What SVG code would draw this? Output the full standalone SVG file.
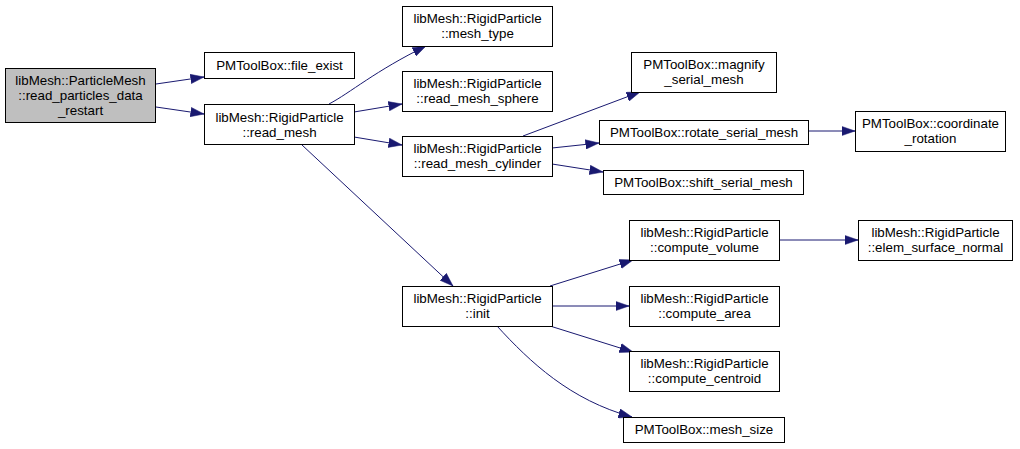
<svg xmlns="http://www.w3.org/2000/svg" width="1020" height="449" viewBox="0 0 1020 449">
<style>
.n rect{fill:#ffffff;stroke:#000000;stroke-width:1}
.n.root rect{fill:#bfbfbf}
.n text{font-family:"Liberation Sans",Arial,Helvetica,sans-serif;font-size:13.33px;text-anchor:middle;fill:#000000}
.e path{fill:none;stroke:#191970;stroke-width:1;marker-end:url(#ah)}
</style>
<defs>
<marker id="ah" markerUnits="userSpaceOnUse" markerWidth="14" markerHeight="10" viewBox="0 0 14 10" refX="13.5" refY="5" orient="auto">
<path d="M0,0.3 L13.5,5 L0,9.7 Z" fill="#191970" stroke="#191970" stroke-width="0.5"/>
</marker>
</defs>
<rect width="1020" height="449" fill="#ffffff"/>
<g id="edges" class="e">
<path d="M156,84 L204,77"/>
<path d="M156,107 L204,114"/>
<path d="M329,104 C350,93 375,71 426,46"/>
<path d="M354,112 L402,104"/>
<path d="M354,137 L402,145"/>
<path d="M302,145 L453,286"/>
<path d="M523,136 L640,92"/>
<path d="M552,148 L599,143"/>
<path d="M552,164 L603,172"/>
<path d="M808,131 L855,131"/>
<path d="M550,286 L633,260"/>
<path d="M552,306 L629,306"/>
<path d="M550,326 L633,352"/>
<path d="M497,326 C530,362 570,400 632,417"/>
<path d="M779,240 L858,240"/>
</g>
<g id="node_root" class="n root">
<rect x="5.5" y="68.5" width="150" height="54"/>
<text x="80.5" y="84.5">libMesh::ParticleMesh</text>
<text x="80.5" y="99.5">::read_particles_data</text>
<text x="80.5" y="114.5">_restart</text>
</g>
<g id="node_file_exist" class="n">
<rect x="204.5" y="52.5" width="150" height="26"/>
<text x="279.5" y="70">PMToolBox::file_exist</text>
</g>
<g id="node_read_mesh" class="n">
<rect x="204.5" y="104.5" width="150" height="40"/>
<text x="279.5" y="122">libMesh::RigidParticle</text>
<text x="279.5" y="137">::read_mesh</text>
</g>
<g id="node_mesh_type" class="n">
<rect x="402.5" y="6.5" width="150" height="40"/>
<text x="477.5" y="23">libMesh::RigidParticle</text>
<text x="477.5" y="38">::mesh_type</text>
</g>
<g id="node_read_mesh_sphere" class="n">
<rect x="402.5" y="71.5" width="150" height="40"/>
<text x="477.5" y="88">libMesh::RigidParticle</text>
<text x="477.5" y="103">::read_mesh_sphere</text>
</g>
<g id="node_read_mesh_cylinder" class="n">
<rect x="402.5" y="136.5" width="150" height="40"/>
<text x="477.5" y="153">libMesh::RigidParticle</text>
<text x="477.5" y="168">::read_mesh_cylinder</text>
</g>
<g id="node_init" class="n">
<rect x="402.5" y="286.5" width="150" height="40"/>
<text x="477.5" y="303">libMesh::RigidParticle</text>
<text x="477.5" y="318">::init</text>
</g>
<g id="node_magnify" class="n">
<rect x="631.5" y="52.5" width="145" height="40"/>
<text x="704" y="69">PMToolBox::magnify</text>
<text x="704" y="84">_serial_mesh</text>
</g>
<g id="node_rotate" class="n">
<rect x="599.5" y="120.5" width="209" height="24"/>
<text x="704" y="136.5">PMToolBox::rotate_serial_mesh</text>
</g>
<g id="node_shift" class="n">
<rect x="603.5" y="170.5" width="200" height="24"/>
<text x="703.5" y="186.5">PMToolBox::shift_serial_mesh</text>
</g>
<g id="node_coordinate_rotation" class="n">
<rect x="855.5" y="111.5" width="150" height="40"/>
<text x="930.5" y="128">PMToolBox::coordinate</text>
<text x="930.5" y="143">_rotation</text>
</g>
<g id="node_compute_volume" class="n">
<rect x="629.5" y="220.5" width="150" height="40"/>
<text x="704.5" y="237">libMesh::RigidParticle</text>
<text x="704.5" y="252">::compute_volume</text>
</g>
<g id="node_elem_surface_normal" class="n">
<rect x="858.5" y="220.5" width="154" height="40"/>
<text x="935.5" y="237">libMesh::RigidParticle</text>
<text x="935.5" y="252">::elem_surface_normal</text>
</g>
<g id="node_compute_area" class="n">
<rect x="629.5" y="286.5" width="150" height="40"/>
<text x="704.5" y="303">libMesh::RigidParticle</text>
<text x="704.5" y="318">::compute_area</text>
</g>
<g id="node_compute_centroid" class="n">
<rect x="629.5" y="351.5" width="150" height="40"/>
<text x="704.5" y="368">libMesh::RigidParticle</text>
<text x="704.5" y="383">::compute_centroid</text>
</g>
<g id="node_mesh_size" class="n">
<rect x="623.5" y="417.5" width="161" height="25"/>
<text x="704" y="434">PMToolBox::mesh_size</text>
</g>
</svg>
